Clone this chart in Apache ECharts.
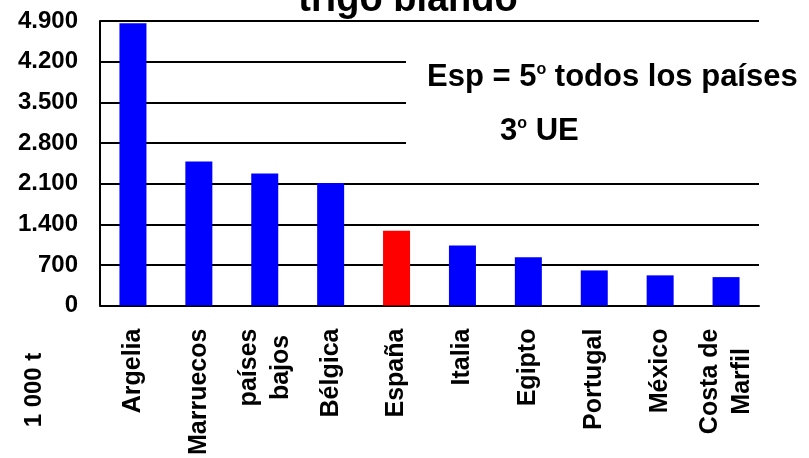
<!DOCTYPE html>
<html>
<head>
<meta charset="utf-8">
<script src="https://cdn.jsdelivr.net/npm/echarts@6/dist/echarts.min.js"></script>
<style>
  html, body { margin: 0; padding: 0; background: #fff; }
  #chart { width: 809px; height: 458px; }
</style>
</head>
<body>
<div id="chart"></div>
<script>
// Importadores de trigo blando (1 000 t)
const countries = ['Argelia', 'Marruecos', 'países\nbajos', 'Bélgica', 'España',
                   'Italia', 'Egipto', 'Portugal', 'México', 'Costa de\nMarfil'];
const imports = [4860, 2480, 2275, 2110, 1290, 1035, 830, 605, 520, 490];
const yTickLabels = ['0', '700', '1.400', '2.100', '2.800', '3.500', '4.200', '4.900'];
const highlighted = 'España';

const FONT = '"Liberation Sans", Arial, sans-serif';
const chart = echarts.init(document.getElementById('chart'), null, { renderer: 'canvas' });

const noteRich = {
  a: { fontFamily: FONT, fontWeight: 'bold', fontSize: 31, lineHeight: 31, fill: '#000' },
  s: { fontFamily: FONT, fontWeight: 'bold', fontSize: 16, lineHeight: 16, verticalAlign: 'top', fill: '#000' }
};

chart.setOption({
  animation: false,
  backgroundColor: '#ffffff',
  grid: { left: 100, right: 50, top: 21, bottom: 150, containLabel: false },
  xAxis: {
    type: 'category',
    data: countries,
    axisLine: { show: true, lineStyle: { color: '#000', width: 2 } },
    axisTick: { show: false },
    axisLabel: {
      interval: 0,
      rotate: 90,
      margin: 23,
      color: '#000',
      formatter: v => v.split('\n').map(s => '{c|' + s + '}').join('\n'),
      rich: {
        c: { align: 'center', fontFamily: FONT, fontWeight: 'bold', fontSize: 25, lineHeight: 32, color: '#000' }
      }
    }
  },
  yAxis: {
    type: 'value',
    min: 0,
    max: 4900,
    interval: 700,
    axisLine: { show: true, lineStyle: { color: '#000', width: 2 } },
    axisTick: { show: false },
    splitLine: { show: true, lineStyle: { color: '#000', width: 2 } },
    axisLabel: {
      margin: 22,
      color: '#000',
      fontFamily: FONT,
      fontWeight: 'bold',
      fontSize: 24,
      formatter: (v, i) => yTickLabels[i]
    }
  },
  series: [{
    type: 'bar',
    barWidth: 27,
    data: imports.map((v, i) => ({
      value: v,
      itemStyle: { color: countries[i] === highlighted ? '#ff0000' : '#0000ff' }
    }))
  }],
  graphic: [
    {
      type: 'text', z: 100, x: 408, y: 0.7,
      style: {
        text: 'trigo blando', fill: '#000',
        font: 'bold 38px "Liberation Sans", Arial, sans-serif', align: 'center', verticalAlign: 'middle'
      }
    },
    {
      type: 'rect', z: 90,
      shape: { x: 406, y: 32, width: 403, height: 140 },
      style: { fill: '#fff' }
    },
    {
      type: 'text', z: 100, x: 427, y: 77,
      style: {
        text: '{a|Esp = 5}{s|o}{a| todos los países}',
        align: 'left', verticalAlign: 'middle', rich: noteRich
      }
    },
    {
      type: 'text', z: 100, x: 500, y: 131,
      style: {
        text: '{a|3}{s|o}{a| UE}',
        align: 'left', verticalAlign: 'middle', rich: noteRich
      }
    },
    {
      type: 'text', z: 100, x: 34, y: 390, rotation: Math.PI / 2,
      style: {
        text: '1 000 t', fill: '#000',
        font: 'bold 24px "Liberation Sans", Arial, sans-serif', align: 'center', verticalAlign: 'middle'
      }
    }
  ]
});
</script>
</body>
</html>
